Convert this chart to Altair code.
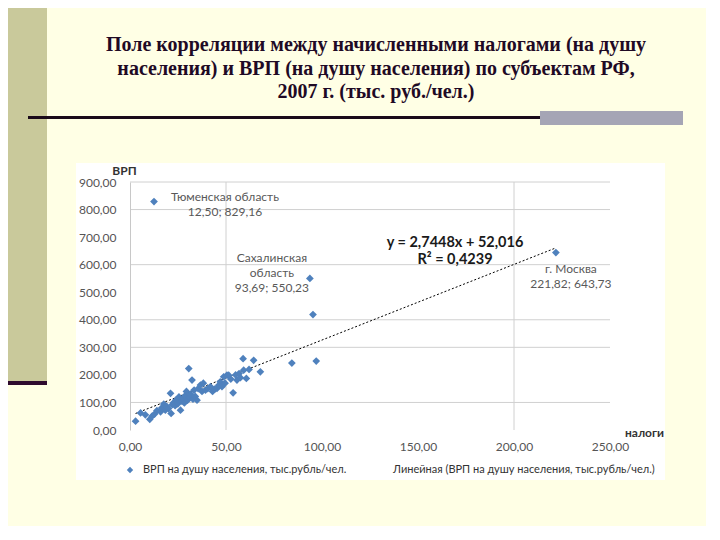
import altair as alt
import pandas as pd

# ---- data ----
tax = [2.9, 5.5, 8.0, 10.3, 11.5, 12.8, 14.0, 15.9, 16.5, 17.6, 18.4, 19.2, 20.0, 21.1,
       21.4, 22.0, 22.8, 23.5, 24.2, 24.9, 25.5, 26.3, 27.0, 27.6, 28.3, 28.8, 29.4, 30.0,
       30.6, 31.1, 31.6, 32.3, 32.8, 33.4, 34.0, 34.9, 35.5, 36.7, 37.5, 38.2, 39.3, 40.5,
       41.9, 43.0, 44.1, 45.3, 46.2, 47.0, 47.9, 48.8, 49.5, 50.5, 51.4, 52.5, 53.7, 55.0,
       55.7, 56.8, 57.5, 58.9, 59.2, 60.6, 62.0, 64.4, 67.9, 84.3, 93.69, 95.3, 97.0,
       12.50, 221.82]
grp = [32, 62, 55, 39, 50, 58, 70, 66, 80, 94, 72, 85, 78, 133,
       60, 92, 100, 88, 110, 95, 120, 72, 105, 115, 98, 125, 140, 108,
       223, 118, 130, 181, 112, 145, 122, 108, 150, 163, 140, 170, 145, 150,
       157, 140, 148, 151, 162, 175, 157, 193, 170, 199, 199, 185, 135, 200,
       181, 205, 190, 259, 217, 187, 220, 253, 211, 243, 550.23, 419, 250,
       829.16, 643.73]

label_texts = ["Тюменская область\n12,50; 829,16",
               "Сахалинская\nобласть\n93,69; 550,23",
               "г. Москва\n221,82; 643,73"]
label_x = [12.50, 93.69, 221.82]
label_y = [829.16, 550.23, 643.73]

trend_slope = 2.7448
trend_intercept = 52.016
equation_text = "y = 2,7448x + 52,016\nR² = 0,4239"

x_grid = [50, 200]
y_grid = [100, 300, 400, 600, 800, 900]

legend_points = "ВРП на душу населения, тыс.рубль/чел."
legend_line = "Линейная (ВРП на душу населения, тыс.рубль/чел.)"

title_text = ("Поле корреляции между начисленными налогами (на душу\n"
              "населения) и ВРП (на душу населения) по субъектам РФ,\n"
              "2007 г. (тыс. руб./чел.)")

# ---- tables ----
pts = pd.DataFrame({"x": tax, "y": grp})
trend_x = [min(tax), max(tax)]
trend = pd.DataFrame({"x": trend_x,
                      "y": [trend_slope * v + trend_intercept for v in trend_x]})
xg = pd.DataFrame({"x": x_grid})
yg = pd.DataFrame({"y": y_grid})

W, H = 480, 248
FONT = "Lato"
LABEL_FMT = "replace(format(datum.value, '.2f'), '.', ',')"

xaxis = alt.Axis(values=[0, 50, 100, 150, 200, 250], labelExpr=LABEL_FMT, grid=False,
                 domain=False, ticks=False, labelPadding=11, labelFont=FONT,
                 labelFontSize=12, labelColor="#555555", labelFlush=False,
                 title="налоги",
                 titleFont=FONT, titleFontSize=12, titleFontWeight="bold",
                 titleColor="#333333", titleX=514, titleY=2, titleAlign="center",
                 titleBaseline="middle", zindex=1)
yaxis = alt.Axis(values=list(range(0, 901, 100)), labelExpr=LABEL_FMT, grid=False,
                 domain=True, domainColor="#c8c8c8", ticks=False, labelPadding=14,
                 labelFont=FONT, labelFontSize=12, labelColor="#555555",
                 labelFlush=False, title="ВРП",
                 titleFont=FONT, titleFontSize=12, titleFontWeight="bold",
                 titleColor="#333333", titleAngle=0, titleX=-6, titleY=-12,
                 titleAlign="center", titleBaseline="middle", zindex=1)
xs = alt.Scale(domain=[0, 250], nice=False, zero=True)
ys = alt.Scale(domain=[0, 900], nice=False, zero=True)


def X():
    return alt.X("x:Q", scale=xs, axis=xaxis)


def Y():
    return alt.Y("y:Q", scale=ys, axis=yaxis)


one = alt.Data(values=[{"a": 1}])


def rect(x1, x2, y1, y2, color):
    return alt.Chart(one).mark_rect(color=color).encode(
        x=alt.value(x1), x2=alt.value(x2), y=alt.value(y1), y2=alt.value(y2))


# slide decorations (pixel positions relative to the plot area)
left_bar = rect(-130, -83, -190, 199, "#C9C99B")
bar_line = rect(-130, -83, 199, 203, "#2E0B2E")
title_line = rect(-102, 410, -66, -63, "#1A0A1A")
gray_block = rect(410, 553, -71, -57, "#A5A5B5")
panel = rect(-54, 535, -19, 298, "#FFFFFF")

title = alt.Chart(alt.Data(values=[{"t": title_text}])).mark_text(
    font="Liberation Serif", fontSize=20, fontWeight="bold", color="#1F0A25",
    align="center", baseline="middle", lineBreak="\n", lineHeight=23.5
).encode(text="t:N", x=alt.value(246), y=alt.value(-137))

vgrid = alt.Chart(xg).mark_rule(color="#d0d0d0", strokeWidth=1).encode(
    x=X(), y=alt.value(0), y2=alt.value(H))
hgrid = alt.Chart(yg).mark_rule(color="#d0d0d0", strokeWidth=1).encode(
    y=Y(), x=alt.value(0), x2=alt.value(W))

trend_line = alt.Chart(trend).mark_line(color="#000000", strokeWidth=1,
                                        strokeDash=[2, 2]).encode(x=X(), y=Y())

points = alt.Chart(pts).mark_point(shape="diamond", filled=True, size=60,
                                   color="#4F81BD", opacity=1).encode(x=X(), y=Y())

lab_df = pd.DataFrame({"x": label_x, "y": label_y, "t": label_texts})
offsets = [(71, -5), (-38, -20), (15, 16)]
labels = []
for i, (dx, dy) in enumerate(offsets):
    labels.append(
        alt.Chart(lab_df.iloc[[i]]).mark_text(
            font=FONT, fontSize=12, color="#595959", align="center",
            baseline="middle", lineBreak="\n", lineHeight=15, dx=dx, dy=dy
        ).encode(x=X(), y=Y(), text="t:N"))

equation = alt.Chart(alt.Data(values=[{"t": equation_text}])).mark_text(
    font=FONT, fontSize=14.5, fontWeight="bold", color="#1a1a1a", align="center",
    baseline="middle", lineBreak="\n", lineHeight=17
).encode(text="t:N", x=alt.value(325), y=alt.value(61))

leg_marker = alt.Chart(one).mark_point(shape="diamond", filled=True, size=40,
                                       color="#4F81BD", opacity=1).encode(
    x=alt.value(0), y=alt.value(288))
leg_t1 = alt.Chart(alt.Data(values=[{"t": legend_points}])).mark_text(
    font=FONT, fontSize=11, color="#333333", align="left", baseline="middle"
).encode(text="t:N", x=alt.value(13), y=alt.value(288))
leg_t2 = alt.Chart(alt.Data(values=[{"t": legend_line}])).mark_text(
    font=FONT, fontSize=11, color="#333333", align="left", baseline="middle"
).encode(text="t:N", x=alt.value(263), y=alt.value(288))

chart = alt.layer(
    left_bar, bar_line, title_line, gray_block, panel, title,
    vgrid, hgrid, trend_line, points, *labels, equation,
    leg_marker, leg_t1, leg_t2
).properties(
    width=W, height=H,
    autosize=alt.AutoSizeParams(type="none"),
    padding={"left": 122, "top": 174, "right": 96, "bottom": 96},
).configure(background="#FFFFE5").configure_view(stroke=None)

chart.save("out.html", embed_options={"renderer": "svg", "actions": False})
